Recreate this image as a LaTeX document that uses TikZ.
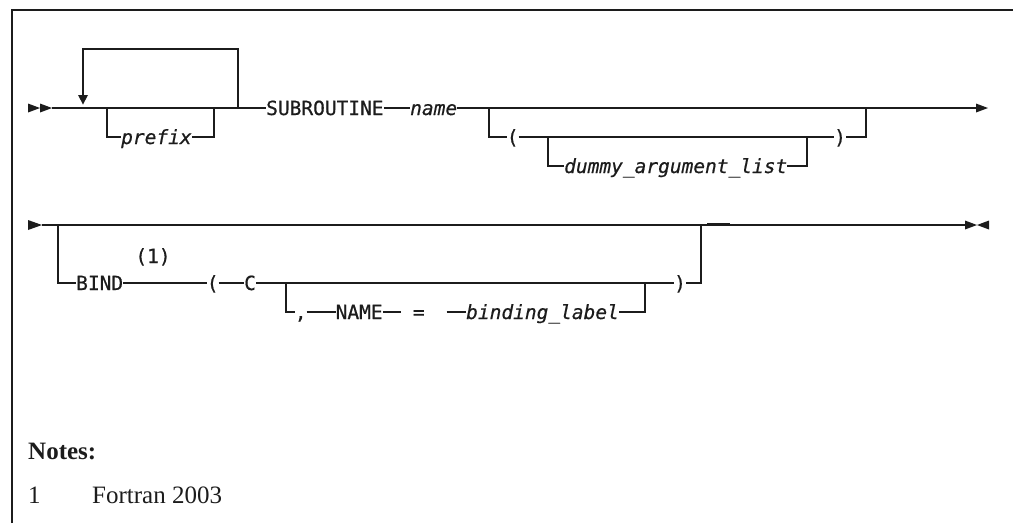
\documentclass[tikz,border=0pt]{standalone}
\usepackage{fontspec}
\setmainfont{Liberation Serif}
\setmonofont[FakeBold=0.6]{DejaVu Sans Mono}
\definecolor{ink}{HTML}{1C1C1C}
\begin{document}
\begin{tikzpicture}[x=1pt,y=-1pt,
  rail/.style={line width=1.25pt, draw=ink},
  tok/.style={font=\ttfamily\fontsize{19.5}{20}\selectfont, text=ink, inner xsep=0pt, inner ysep=0pt, text height=14pt, text depth=0pt, anchor=west},
  var/.style={tok, font=\ttfamily\itshape\fontsize{19.5}{20}\selectfont},
  notefont/.style={anchor=base west, inner sep=0pt, text=ink, font=\fontsize{25}{28}\selectfont}]
\useasboundingbox (0,0) rectangle (1013,523);
% frame
\draw[line width=1.6pt, ink] (12,523) -- (12,10) -- (1013,10);

% ---------- row 1 ----------
\fill[ink] (28,103.5) -- (40,108) -- (28,112.5) -- cycle;
\fill[ink] (40,103.5) -- (52,108) -- (40,112.5) -- cycle;
\coordinate (s1) at (52,108);
\node[tok] (subr) at (266,108) {SUBROUTINE};
\node[var] (name) at (410,108) {name};
\coordinate (e1) at (977,108);
\draw[rail] (s1) -- (subr.west);
\draw[rail] (subr.east) -- (name.west);
\draw[rail] (name.east) -- (e1);
\fill[ink] (976,103.5) -- (988,108) -- (976,112.5) -- cycle;

% repeat loop
\coordinate (lpR) at (238,108);
\coordinate (lpT) at (238,49);
\coordinate (lpL) at (83,96);
\draw[rail] (lpR) -- (lpT) -| (lpL);
\fill[ink] (78,95) -- (88,95) -- (83,104.5) -- cycle;

% prefix
\coordinate (pfL) at (107,108);
\coordinate (pfR) at (214,108);
\node[var] (prefix) at (121,137) {prefix};
\draw[rail] (pfL) |- (prefix.west);
\draw[rail] (prefix.east) -| (pfR);

% ( dummy_argument_list )
\coordinate (b2L) at (489,108);
\coordinate (b2R) at (866,108);
\node[tok] (lp1) at (506.6,137) {(};
\node[tok] (rp1) at (834,137) {)};
\draw[rail] (b2L) |- (lp1.west);
\draw[rail] (lp1.east) -- (rp1.west);
\draw[rail] (rp1.east) -| (b2R);
\coordinate (b3L) at (548,137);
\coordinate (b3R) at (807,137);
\node[var] (dal) at (564,166) {dummy\_argument\_list};
\draw[rail] (b3L) |- (dal.west);
\draw[rail] (dal.east) -| (b3R);

% ---------- row 2 ----------
\fill[ink] (28,220) -- (42,225) -- (28,230) -- cycle;
\coordinate (s2) at (42,225);
\coordinate (e2) at (966,225);
\draw[rail] (s2) -- (e2);
\fill[ink] (965,220.5) -- (977,225) -- (965,229.5) -- cycle;
\fill[ink] (989,220.5) -- (977,225) -- (989,229.5) -- cycle;
\draw[line width=2pt, ink] (707,223.8) -- (730,223.8);

\coordinate (b4L) at (58,225);
\coordinate (b4R) at (701,225);
\node[tok] (bind) at (76,283) {BIND};
\node[tok, anchor=center] (fn) at (153,256) {(1)};
\node[tok] (lp2) at (206.6,283) {(};
\node[tok] (cc) at (244,283) {C};
\node[tok] (rp2) at (674,283) {)};
\draw[rail] (b4L) |- (bind.west);
\draw[rail] (bind.east) -- (lp2.west);
\draw[rail] (lp2.east) -- (cc.west);
\draw[rail] (cc.east) -- (rp2.west);
\draw[rail] (rp2.east) -| (b4R);

\coordinate (b5L) at (286,283);
\coordinate (b5R) at (645,283);
\node[tok] (comma) at (294.6,312) {,};
\node[tok] (nm) at (335.5,312) {NAME};
\node[tok] (eq) at (401,312) {\ =\ \kern10pt};
\node[var] (bl) at (466,312) {binding\_label};
\draw[rail] (b5L) |- (comma.west);
\draw[rail] (comma.east) -- (nm.west);
\draw[rail] (nm.east) -- (eq.west);
\draw[rail] (eq.east) -- (bl.west);
\draw[rail] (bl.east) -| (b5R);

% ---------- notes ----------
\node[notefont, font=\bfseries\fontsize{25}{28}\selectfont] (notes) at (28,459) {Notes:};
\node[notefont] (n1) at (28,503) {1};
\node[notefont] (n1t) at (92,503) {Fortran 2003};
\end{tikzpicture}
\end{document}
